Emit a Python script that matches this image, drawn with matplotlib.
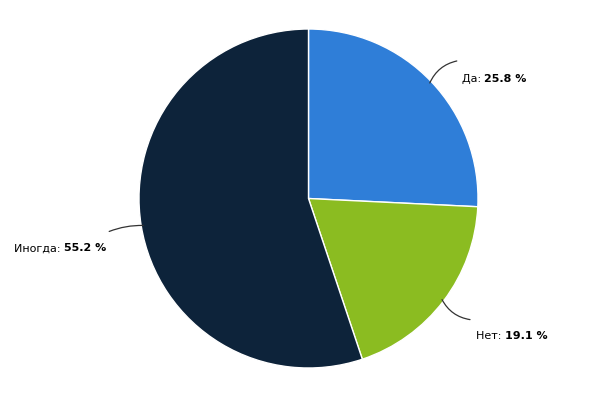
import numpy as np
import matplotlib.pyplot as plt

labels = ['Да', 'Нет', 'Иногда']
values = [25.8, 19.1, 55.2]
colors = ['#2f7ed8', '#8bbc21', '#0d233a']

W, H = 601, 402
fig = plt.figure(figsize=(W/100, H/100), dpi=100)
ax = fig.add_axes([0, 0, 1, 1])
ax.set_xlim(0, W)
ax.set_ylim(0, H)
ax.set_aspect('equal')
ax.axis('off')

cx, cy, R = 308.5, H - 199.5, 169.5
wedges, _ = ax.pie(values, colors=colors, startangle=90, counterclock=False,
                   center=(cx, cy), radius=R,
                   wedgeprops=dict(edgecolor='white', linewidth=1))
ax.set_xlim(0, W)
ax.set_ylim(0, H)

# connector end (relative to edge point), bend and label anchor, per slice
ends = [(27, 22), (28, -20), (-34, -6)]
bends = [0.25, -0.25, -0.1]
lab_off = [(32, 5), (34, -35), (-129, -22)]

fig.canvas.draw()
r = fig.canvas.get_renderer()
for w, lab, v, e, b, lo in zip(wedges, labels, values, ends, bends, lab_off):
    mid = np.deg2rad((w.theta1 + w.theta2) / 2)
    ex, ey = cx + (R - 2) * np.cos(mid), cy + (R - 2) * np.sin(mid)
    tx, ty = ex + e[0], ey + e[1]
    ax.annotate('', xy=(ex, ey), xytext=(tx, ty),
                arrowprops=dict(arrowstyle='-', color='#333333', lw=0.9,
                                connectionstyle='arc3,rad=%s' % b,
                                shrinkA=0, shrinkB=0))
    t1 = ax.text(ex + lo[0], ey + lo[1], lab + ': ', fontsize=8, color='black',
                 va='center', ha='left')
    bb = t1.get_window_extent(renderer=r)
    ax.text(bb.x1, ey + lo[1], '%.1f %%' % v, fontsize=8, fontweight='bold',
            color='black', va='center', ha='left')

fig.savefig('out.png', dpi=100)
